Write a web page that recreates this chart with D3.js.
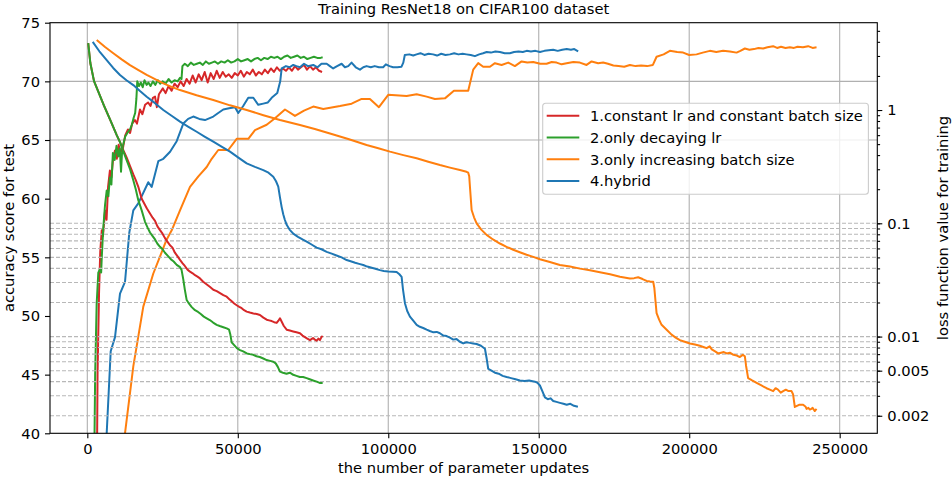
<!DOCTYPE html>
<html>
<head>
<meta charset="utf-8">
<script src="https://cdn.jsdelivr.net/npm/d3@7"></script>
<style>
  body { margin: 0; background: #fff; }
  svg text { font-family: "DejaVu Sans", sans-serif; font-size: 14.7px; fill: #000; }
</style>
</head>
<body>
<svg id="chart" width="952" height="479"></svg>
<script>
//--------------------------------------------------
// data
//--------------------------------------------------

const titleText = "Training ResNet18 on CIFAR100 dataset";
const xLabel = "the number of parameter updates";
const accLabel = "accuracy score for test";
const lossLabel = "loss function value for training";

const xTicks = [0, 50000, 100000, 150000, 200000, 250000];
const accTicks = [40, 45, 50, 55, 60, 65, 70, 75];
const accGrid = [65, 70];
const lossTicks = [0.002, 0.005, 0.01, 0.1, 1];
const lossTickLabels = ["0.002", "0.005", "0.01", "0.1", "1"];
const lossDecades = [0.001, 0.01, 0.1, 1];
const lossSubs = [1, 2, 3, 4, 5, 6, 7, 8, 9];
const lossGridMax = 0.1;

const seriesNames = [
    "1.constant lr and constant batch size",
    "2.only decaying lr",
    "3.only increasing batch size",
    "4.hybrid"
];
const seriesColors = ["#d62728", "#2ca02c", "#ff7f0e", "#1f77b4"];

// accuracy (left axis)
const redAcc = [[3000,30],[3400,45],[3900,52],[4300,55.5],[4800,57.3],[5200,56.8],[5900,59.0],[6400,58.2],[6900,61.0],[7500,62.4],[8000,61.8],[8600,63.5],[9200,64.1],[9800,63.4],[10400,64.6],[11000,63.9],[11900,64.4],[12600,65.4],[13500,65.9],[14200,65.6],[14900,66.4],[15800,66.7],[16500,66.4],[17500,67.6],[18300,67.2],[19200,68.0],[20200,68.2],[21000,67.9],[21800,68.6],[22500,68.7],[23100,67.8],[23800,68.9],[25100,69.4],[26000,69.0],[27000,69.6],[28000,69.2],[29000,69.8],[30000,69.5],[31000,70.0],[32000,69.6],[33000,70.2],[34000,69.8],[35000,70.5],[36000,69.9],[37000,70.6],[38000,70.1],[39000,70.8],[40000,69.9],[41000,70.7],[42000,70.2],[43000,70.9],[44000,70.3],[45000,70.8],[46000,70.4],[47000,70.6],[48000,70.3],[49000,70.7],[50000,70.5],[51000,70.9],[52000,70.4],[53000,70.8],[54000,70.6],[55000,71.0],[56000,70.5],[57000,70.8],[58000,70.6],[59000,71.0],[60000,70.7],[61000,71.1],[62000,70.8],[63000,71.2],[64000,70.9],[65000,71.1],[66000,70.9],[67000,71.2],[68000,70.9],[69000,71.3],[70000,71.0],[71000,71.2],[72000,71.4],[73000,71.0],[74000,71.3],[75000,71.0],[76000,71.2],[77000,70.9],[78000,70.8]];

const greenAcc = [[2000,30],[2600,45],[3100,51],[3650,53.7],[4200,54.0],[4600,53.7],[4800,55.0],[5300,57.5],[5900,59.5],[6450,60.7],[7000,60.2],[7500,61.8],[8000,61.2],[8500,63.9],[9100,63.3],[9700,64.5],[10300,63.6],[10800,64.3],[11200,62.3],[11500,63.8],[11900,64.6],[12600,65.3],[13300,65.6],[14200,65.9],[14800,66.3],[15400,66.9],[15900,67.3],[16300,68.5],[16600,70.0],[17200,69.6],[17800,69.9],[18400,69.5],[19000,70.1],[19700,69.7],[20300,69.9],[21000,69.6],[21800,70.0],[22600,69.7],[23400,70.1],[24200,69.8],[25000,70.0],[26000,69.8],[27000,70.2],[28000,69.9],[29000,70.1],[30000,70.0],[30800,70.3],[31300,70.2],[31600,71.3],[32400,71.5],[33400,71.3],[34400,71.6],[35400,71.4],[36400,71.5],[37400,71.6],[38400,71.4],[39400,71.7],[40400,71.5],[41400,71.6],[42400,71.7],[43400,71.5],[44500,71.7],[45600,71.6],[46700,71.8],[47800,71.6],[48900,71.7],[50000,71.9],[51100,71.7],[52200,71.8],[53300,71.9],[54400,71.7],[55500,71.9],[56600,72.0],[57700,71.8],[58800,72.0],[59900,71.9],[61000,72.1],[62100,72.0],[63200,72.1],[64300,71.9],[65400,72.1],[66500,72.2],[67600,72.0],[68700,72.1],[69800,72.2],[70900,72.0],[72000,72.1],[73100,71.9],[74200,72.0],[75300,72.1],[76400,72.0],[77500,72.0],[78200,72.05]];

const orangeAcc = [[11500,30],[12520,40],[15280,45.7],[18600,50.8],[21900,53.6],[26340,56.5],[28040,57.3],[30800,59.0],[34120,61.0],[36900,61.9],[39670,62.7],[41330,63.4],[43520,64.15],[46840,64.15],[49630,65.1],[53490,65.1],[55710,65.85],[59600,66.3],[62350,66.85],[65680,67.6],[69000,67.05],[72000,67.5],[75080,67.85],[78400,67.65],[83950,67.9],[87830,68.1],[91150,68.5],[93910,68.5],[96900,67.8],[99990,68.85],[106100,68.75],[109430,68.9],[112750,68.7],[115510,68.5],[118830,68.55],[121820,69.2],[126570,69.2],[128230,71.0],[129890,71.55],[131550,71.25],[133780,71.25],[135440,71.55],[137660,71.4],[139860,71.6],[142080,71.3],[144310,71.7],[146200,71.6],[148160,71.65],[150500,71.5],[152610,71.5],[154300,71.65],[155940,71.6],[157600,71.45],[159260,71.55],[161500,71.65],[163680,71.6],[165900,71.4],[167560,71.7],[169750,71.55],[171400,71.6],[173000,71.5],[174800,71.35],[176500,71.3],[178400,71.25],[180290,71.4],[182200,71.3],[184000,71.35],[186000,71.3],[187930,71.4],[189160,72.1],[191500,72.3],[193580,72.6],[196000,72.5],[197990,72.45],[199990,72.25],[202440,72.3],[204500,72.45],[206860,72.6],[209000,72.5],[211280,72.6],[213500,72.55],[215730,72.45],[217000,72.6],[218490,72.8],[220000,72.7],[221500,72.75],[223000,72.85],[224570,72.8],[226000,72.9],[227890,73.0],[229200,72.85],[230500,72.95],[232000,72.85],[233440,72.9],[234800,72.85],[236000,72.95],[237800,72.9],[239520,73.0],[241000,72.85],[242310,72.9]];

const blueAcc = [[5900,30],[6440,40],[7770,47.0],[9200,48.2],[10860,51.9],[12520,52.9],[13950,57.1],[15280,59.0],[16940,59.6],[20260,61.4],[21390,61.0],[23590,63.2],[25250,63.4],[27500,64.0],[29700,64.9],[31890,66.4],[33500,66.8],[35210,67.0],[37200,66.8],[39100,66.7],[41860,67.0],[43500,67.3],[45180,67.6],[47100,67.7],[49070,67.8],[50160,67.3],[51800,67.9],[53480,68.6],[55150,68.6],[56810,68.0],[58470,68.1],[60000,68.2],[61260,68.6],[63120,69.0],[64100,70.0],[64580,71.1],[66000,71.3],[67200,71.2],[68430,71.4],[69500,71.3],[70660,71.2],[72000,71.5],[73300,71.3],[75080,71.4],[76500,71.2],[77800,71.5],[79530,71.5],[80600,71.3],[81700,71.1],[83000,71.3],[84500,71.5],[85600,71.2],[86700,71.3],[87800,71.6],[89200,71.2],[90600,71.0],[91700,71.2],[92800,71.3],[94200,71.2],[95500,71.3],[96900,71.2],[98300,71.2],[99200,71.45],[100400,71.3],[101600,71.2],[103000,71.2],[104400,71.25],[105000,71.6],[105500,72.25],[107000,72.3],[108300,72.2],[109400,72.3],[110700,72.4],[112000,72.25],[113400,72.35],[114900,72.3],[116200,72.2],[117600,72.35],[119000,72.25],[120500,72.3],[121900,72.4],[123300,72.3],[124700,72.35],[126000,72.3],[127400,72.25],[128800,72.15],[130200,72.3],[131500,72.4],[132700,72.5],[134100,72.45],[135600,72.55],[137100,72.5],[138700,72.4],[140400,72.4],[141800,72.5],[143300,72.55],[144700,72.5],[146000,72.6],[147400,72.55],[148900,72.6],[150400,72.5],[151900,72.6],[153300,72.65],[154800,72.7],[156300,72.6],[157800,72.7],[159300,72.75],[160700,72.7],[161800,72.75],[163100,72.55]];

// training loss (right axis, log)
const redLoss = [[300,3.9],[1000,2.6],[2230,1.8],[3650,1.45],[5500,1.1],[7500,0.83],[9770,0.6],[10860,0.52],[12000,0.44],[13090,0.38],[14200,0.32],[15280,0.27],[16100,0.24],[16940,0.21],[18070,0.165],[19000,0.148],[19800,0.135],[20830,0.122],[21700,0.112],[22500,0.105],[23300,0.094],[24150,0.087],[25000,0.081],[25800,0.074],[26600,0.069],[27470,0.064],[28300,0.061],[29100,0.055],[30000,0.051],[30800,0.0475],[31600,0.0445],[32400,0.042],[33300,0.039],[34120,0.0374],[35000,0.0362],[35800,0.0348],[36600,0.0338],[37440,0.0326],[38500,0.0305],[39600,0.029],[40700,0.0275],[41860,0.0259],[43000,0.0252],[44100,0.0242],[45200,0.0232],[46310,0.0225],[47200,0.0214],[48000,0.0205],[48800,0.0196],[49630,0.0189],[50500,0.0183],[51300,0.0178],[52100,0.0171],[52950,0.0166],[54000,0.0163],[55200,0.016],[56300,0.0158],[57370,0.0155],[58500,0.0147],[59600,0.0141],[60400,0.0139],[61260,0.0137],[62100,0.0134],[62920,0.0132],[63500,0.0138],[64020,0.0145],[64600,0.0135],[65300,0.0124],[66240,0.0115],[67300,0.0113],[68400,0.0111],[69500,0.0109],[70660,0.0107],[71500,0.0102],[72300,0.0099],[73100,0.0096],[73980,0.0093],[75000,0.0097],[75600,0.0094],[76210,0.0092],[76800,0.0096],[77300,0.0093],[77800,0.0099],[78200,0.0101]];

const greenLoss = [[300,3.9],[1000,2.6],[2230,1.8],[3650,1.45],[5500,1.1],[7500,0.83],[9770,0.6],[10860,0.52],[12000,0.43],[13090,0.36],[14200,0.3],[15280,0.24],[16100,0.2],[16940,0.16],[18070,0.13],[19170,0.103],[20000,0.092],[20830,0.083],[21700,0.077],[22500,0.072],[23300,0.066],[24150,0.062],[25000,0.059],[25800,0.055],[26910,0.051],[27800,0.048],[28700,0.046],[29700,0.043],[30800,0.041],[31300,0.039],[31890,0.032],[32400,0.026],[33020,0.021],[33800,0.0195],[34700,0.0182],[35780,0.0171],[36800,0.0165],[37700,0.0158],[38700,0.015],[39670,0.0145],[40700,0.014],[41800,0.0133],[42990,0.0127],[44000,0.0124],[45200,0.0121],[46310,0.0118],[47100,0.0115],[47500,0.0105],[47970,0.0089],[48800,0.0084],[49700,0.0079],[50730,0.0076],[51800,0.0074],[53000,0.0071],[54000,0.007],[55150,0.0069],[56200,0.0067],[57300,0.0066],[58470,0.0064],[59600,0.0062],[60700,0.0061],[61790,0.006],[62600,0.0058],[63300,0.0054],[64020,0.0049],[65000,0.0048],[66200,0.0047],[67300,0.0048],[68430,0.0046],[69500,0.0045],[70600,0.0044],[71700,0.0044],[72880,0.0043],[73900,0.0042],[75000,0.0041],[76210,0.004],[77200,0.0039],[78200,0.0039]];

const orangeLoss = [[3120,4.15],[5900,3.6],[8640,3.17],[11400,2.8],[14180,2.49],[17000,2.25],[19730,2.04],[22500,1.87],[25250,1.72],[28000,1.6],[30800,1.5],[36300,1.35],[41860,1.225],[47400,1.1],[52950,1.0],[58500,0.9],[64020,0.816],[70660,0.737],[75600,0.68],[80630,0.62],[86700,0.555],[92800,0.491],[96700,0.46],[100560,0.429],[105000,0.4],[109430,0.375],[113300,0.35],[117170,0.327],[120500,0.31],[123810,0.295],[126000,0.285],[126570,0.28],[126900,0.26],[127200,0.2],[127700,0.131],[128500,0.113],[129360,0.1],[130900,0.088],[132680,0.079],[134800,0.072],[137100,0.0663],[139300,0.062],[141520,0.0584],[143700,0.0555],[145970,0.0527],[148200,0.0505],[150390,0.0481],[153700,0.0455],[157030,0.0428],[160400,0.0415],[163700,0.0398],[167000,0.0385],[170320,0.037],[173700,0.0355],[177000,0.0338],[180290,0.0326],[181700,0.0328],[183040,0.0334],[184500,0.0322],[185840,0.031],[187000,0.0307],[188030,0.0305],[188400,0.027],[188800,0.0205],[189160,0.0161],[190000,0.0141],[190820,0.0127],[192500,0.0115],[194140,0.0104],[195500,0.0098],[196900,0.0093],[198500,0.009],[200230,0.0087],[201900,0.0085],[203550,0.0083],[204700,0.0081],[205770,0.0079],[206800,0.0082],[207500,0.0077],[208600,0.0074],[209620,0.0071],[210600,0.0072],[211500,0.0073],[212500,0.0071],[213510,0.0072],[214700,0.0069],[215800,0.0068],[216830,0.0066],[217800,0.0069],[218490,0.0067],[218900,0.0055],[219580,0.0043],[220900,0.0041],[222380,0.0039],[224000,0.0037],[225700,0.0035],[226800,0.0034],[227890,0.0033],[228700,0.0035],[229500,0.0034],[230400,0.0032],[231210,0.0033],[232100,0.0034],[233000,0.0033],[234000,0.0033],[234500,0.0031],[235100,0.00239],[236500,0.0025],[237850,0.0025],[238700,0.0024],[239000,0.0023],[239600,0.00235],[240080,0.00227],[240600,0.0023],[241000,0.00235],[241700,0.0022],[242310,0.0023]];

const blueLoss = [[1800,4.0],[4000,3.3],[6440,2.76],[8600,2.35],[10860,2.04],[13000,1.83],[15280,1.66],[17500,1.47],[19730,1.31],[22500,1.15],[25250,1.0],[28000,0.89],[30800,0.789],[33600,0.71],[36340,0.643],[39100,0.58],[41860,0.525],[44600,0.475],[47410,0.429],[50200,0.38],[52950,0.338],[55700,0.315],[58470,0.295],[60200,0.28],[61790,0.258],[62700,0.235],[63450,0.211],[64000,0.17],[64580,0.139],[65100,0.12],[65600,0.108],[66240,0.097],[67200,0.088],[68430,0.081],[70000,0.076],[71500,0.072],[72880,0.069],[74500,0.065],[76200,0.061],[77800,0.059],[79530,0.056],[81200,0.054],[82800,0.052],[84500,0.05],[86170,0.0474],[87500,0.0462],[89000,0.0448],[90300,0.0438],[91690,0.0428],[93000,0.0415],[94500,0.0405],[96000,0.0395],[97240,0.0386],[98500,0.038],[100000,0.0376],[101500,0.0374],[102780,0.0372],[103700,0.0355],[104440,0.0337],[104900,0.026],[105540,0.0197],[106300,0.0168],[107200,0.015],[108300,0.0138],[109430,0.0127],[110500,0.0122],[111600,0.0119],[112750,0.0115],[113800,0.0112],[115000,0.0109],[116100,0.011],[117170,0.0107],[118300,0.0102],[119400,0.0101],[120490,0.0098],[121600,0.0094],[122700,0.0095],[123800,0.009],[124910,0.0087],[126000,0.0089],[127100,0.0088],[128200,0.0087],[129360,0.0086],[130800,0.0083],[132120,0.0078],[132700,0.0064],[133210,0.0052],[134300,0.005],[135440,0.0048],[136700,0.0047],[138000,0.0045],[139320,0.0044],[140800,0.0043],[142300,0.0042],[143740,0.0041],[145300,0.00405],[146800,0.0041],[148730,0.004],[149600,0.0039],[150390,0.0037],[151200,0.0033],[152050,0.0029],[153000,0.0028],[153900,0.00285],[154810,0.0027],[155900,0.00265],[157030,0.0026],[158200,0.00255],[159300,0.0025],[160500,0.00255],[161700,0.00245],[163010,0.0024]];

const accSeries = [redAcc, greenAcc, orangeAcc, blueAcc];
const lossSeries = [redLoss, greenLoss, orangeLoss, blueLoss];

//--------------------------------------------------
// layout
//--------------------------------------------------

const plot = { left: 50, right: 877.3, top: 22.7, bottom: 433.3 };

const svg = d3.select("#chart");

const x = d3.scaleLinear().domain([-12400, 262500]).range([plot.left, plot.right]);
const yAcc = d3.scaleLinear().domain([40, 75]).range([plot.bottom, plot.top]);
const yLoss = d3.scaleLog().domain([0.0014, 5.9]).range([plot.bottom, plot.top]);

// minor positions of the log axis
let lossMinor = [];
lossDecades.forEach(dec => lossSubs.forEach(s => lossMinor.push(+(dec * s).toPrecision(3))));
lossMinor = lossMinor.filter(v => v >= yLoss.domain()[0] && v <= yLoss.domain()[1]);

svg.append("defs").append("clipPath").attr("id", "plot-clip")
    .append("rect")
    .attr("x", plot.left).attr("y", plot.top)
    .attr("width", plot.right - plot.left).attr("height", plot.bottom - plot.top);

//--------------------------------------------------
// grid
//--------------------------------------------------

const grid = svg.append("g").attr("stroke", "#b0b0b0").attr("stroke-width", 1.1);

grid.selectAll(".vgrid").data(xTicks).enter().append("line")
    .attr("x1", d => x(d)).attr("x2", d => x(d))
    .attr("y1", plot.top).attr("y2", plot.bottom);

grid.selectAll(".hgrid").data(accGrid).enter().append("line")
    .attr("x1", plot.left).attr("x2", plot.right)
    .attr("y1", d => yAcc(d)).attr("y2", d => yAcc(d));

//--------------------------------------------------
// curves
//--------------------------------------------------

const accLine = d3.line().x(d => x(d[0])).y(d => yAcc(d[1]));
const lossLine = d3.line().x(d => x(d[0])).y(d => yLoss(d[1]));

const accG = svg.append("g").attr("clip-path", "url(#plot-clip)");
accSeries.forEach((s, i) => {
    accG.append("path")
        .attr("d", accLine(s))
        .attr("fill", "none")
        .attr("stroke", seriesColors[i])
        .attr("stroke-width", 2)
        .attr("stroke-linejoin", "round");
});

// dashed grid of the loss axis (only the lower part)
svg.append("g")
    .attr("stroke", "#b8b8b8").attr("stroke-width", 1.1).attr("stroke-dasharray", "4,2")
    .selectAll("line")
    .data(lossMinor.filter(v => v <= lossGridMax))
    .enter().append("line")
    .attr("x1", plot.left).attr("x2", plot.right)
    .attr("y1", d => yLoss(d)).attr("y2", d => yLoss(d));

const lossG = svg.append("g").attr("clip-path", "url(#plot-clip)");
lossSeries.forEach((s, i) => {
    lossG.append("path")
        .attr("d", lossLine(s))
        .attr("fill", "none")
        .attr("stroke", seriesColors[i])
        .attr("stroke-width", 2)
        .attr("stroke-linejoin", "round");
});

//--------------------------------------------------
// axes
//--------------------------------------------------

function styleAxis(g) {
    g.select(".domain").remove();
    g.selectAll(".tick line").attr("stroke", "#000").attr("stroke-width", 1.1);
    g.selectAll(".tick text")
        .attr("font-family", "DejaVu Sans, sans-serif")
        .attr("font-size", "14.7px")
        .attr("fill", "#000");
}

svg.append("g")
    .attr("transform", `translate(0,${plot.bottom})`)
    .call(d3.axisBottom(x).tickValues(xTicks).tickSize(5).tickPadding(5).tickFormat(d3.format("d")))
    .call(styleAxis);

svg.append("g")
    .attr("transform", `translate(${plot.left},0)`)
    .call(d3.axisLeft(yAcc).tickValues(accTicks).tickSize(5).tickPadding(5))
    .call(styleAxis);

svg.append("g")
    .attr("transform", `translate(${plot.right},0)`)
    .call(d3.axisRight(yLoss).tickValues(lossMinor).tickSize(2.8).tickFormat(""))
    .call(styleAxis);

svg.append("g")
    .attr("transform", `translate(${plot.right},0)`)
    .call(d3.axisRight(yLoss).tickValues(lossTicks).tickSize(5).tickPadding(5)
        .tickFormat((d, i) => lossTickLabels[i]))
    .call(styleAxis);

// spines
svg.append("rect")
    .attr("x", plot.left).attr("y", plot.top)
    .attr("width", plot.right - plot.left).attr("height", plot.bottom - plot.top)
    .attr("fill", "none").attr("stroke", "#000").attr("stroke-width", 1.1);

//--------------------------------------------------
// texts
//--------------------------------------------------

const midX = (plot.left + plot.right) / 2;
const midY = (plot.top + plot.bottom) / 2;

svg.append("text").attr("x", midX).attr("y", 13.5)
    .attr("text-anchor", "middle").text(titleText);

svg.append("text").attr("x", midX).attr("y", 473)
    .attr("text-anchor", "middle").text(xLabel);

svg.append("text").attr("transform", `translate(14,${midY}) rotate(-90)`)
    .attr("text-anchor", "middle").text(accLabel);

svg.append("text").attr("transform", `translate(947.5,${midY}) rotate(-90)`)
    .attr("text-anchor", "middle").text(lossLabel);

//--------------------------------------------------
// legend
//--------------------------------------------------

const legend = svg.append("g").attr("transform", "translate(542.7,103.3)");
legend.append("rect")
    .attr("width", 325.7).attr("height", 91).attr("rx", 3)
    .attr("fill", "#fff").attr("fill-opacity", 0.8)
    .attr("stroke", "#cccccc").attr("stroke-width", 1.1);

seriesNames.forEach((name, i) => {
    const yy = 12.4 + i * 21.8;
    legend.append("line")
        .attr("x1", 4).attr("x2", 36.6).attr("y1", yy).attr("y2", yy)
        .attr("stroke", seriesColors[i]).attr("stroke-width", 2);
    legend.append("text")
        .attr("x", 47.3).attr("y", yy).attr("dy", "0.36em")
        .text(name);
});
</script>
</body>
</html>
